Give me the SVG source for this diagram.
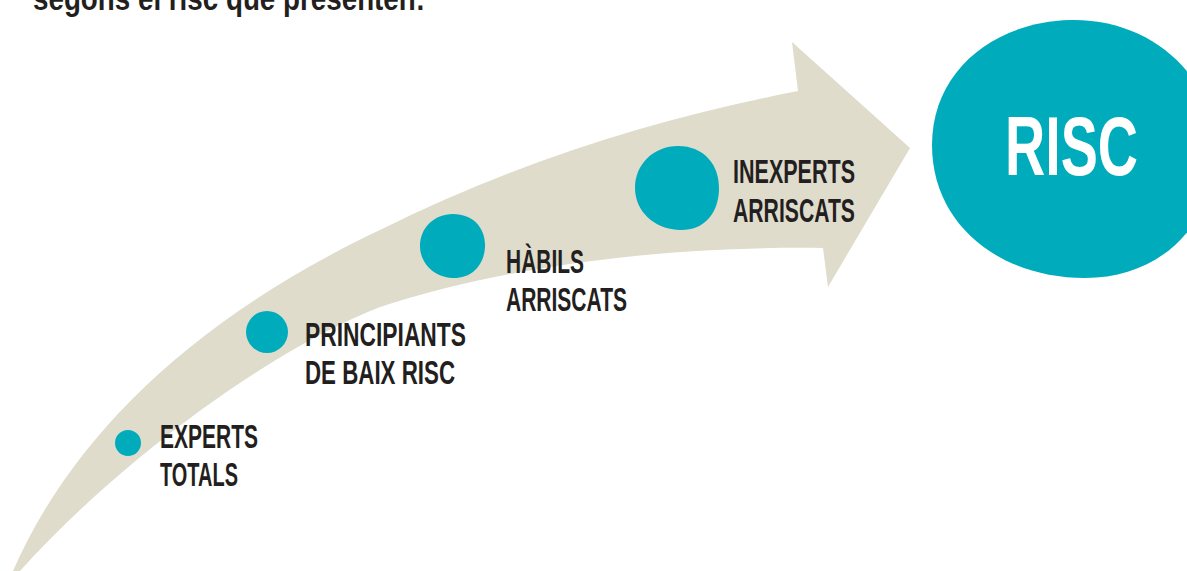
<svg xmlns="http://www.w3.org/2000/svg" width="1187" height="571" viewBox="0 0 1187 571">
  <style>
    .lbl { font-family: "Liberation Sans", Arial, sans-serif; font-weight: bold; font-size: 33px; fill: #231F20; }
    .dot { fill: #00ACBC; }
    .band { fill: #DFDCCC; }
    .title { font-family: "Liberation Sans", Arial, sans-serif; font-weight: bold; font-size: 34px; fill: #231F20; }
    .risc { font-family: "Liberation Sans", Arial, sans-serif; font-weight: bold; font-size: 84px; fill: #FFFFFF; }
  </style>
  <rect width="1187" height="571" fill="#FFFFFF"/>
  <text class="title" x="33" y="10" textLength="392" lengthAdjust="spacingAndGlyphs">segons el risc que presenten:</text>

  <g id="connectors">
    <path id="arrow" class="band" d="M13 571 C70 440 190 320 380 230 C520 160 660 118 798 91 L792 42 L910 148 L828 287 L823 248 C680 246 520 262 380 307 C270 350 120 460 20 571 Z"/>
  </g>

  <g id="node-experts">
    <circle class="dot" cx="128" cy="443" r="13"/>
    <text class="lbl" x="160" y="448" textLength="98" lengthAdjust="spacingAndGlyphs">EXPERTS</text>
    <text class="lbl" x="160" y="486" textLength="78" lengthAdjust="spacingAndGlyphs">TOTALS</text>
  </g>

  <g id="node-principiants">
    <circle class="dot" cx="267" cy="332" r="21"/>
    <text class="lbl" x="305" y="346" textLength="161" lengthAdjust="spacingAndGlyphs">PRINCIPIANTS</text>
    <text class="lbl" x="305" y="384" textLength="150" lengthAdjust="spacingAndGlyphs">DE BAIX RISC</text>
  </g>

  <g id="node-habils">
    <path class="dot" d="M453 214 C474 214 486 229 485 247 C484 266 471 279 452 278 C434 277 420 263 420 246 C420 228 434 214 453 214 Z"/>
    <text class="lbl" x="506" y="273" textLength="78" lengthAdjust="spacingAndGlyphs">HÀBILS</text>
    <text class="lbl" x="506" y="311" textLength="121" lengthAdjust="spacingAndGlyphs">ARRISCATS</text>
  </g>

  <g id="node-inexperts">
    <path class="dot" d="M678 146 C704 146 720 165 719 190 C718 215 703 231 679 230 C654 229 635 211 635 188 C635 164 654 146 678 146 Z"/>
    <text class="lbl" x="733" y="183" textLength="122" lengthAdjust="spacingAndGlyphs">INEXPERTS</text>
    <text class="lbl" x="733" y="222" textLength="122" lengthAdjust="spacingAndGlyphs">ARRISCATS</text>
  </g>

  <g id="node-risc">
    <path class="dot" d="M932 145 C932 70 995 22 1070 20 C1150 18 1215 75 1215 150 C1215 225 1160 278 1085 278 C1000 278 932 225 932 145 Z"/>
    <text class="risc" x="1005" y="175" textLength="133" lengthAdjust="spacingAndGlyphs">RISC</text>
  </g>
</svg>
